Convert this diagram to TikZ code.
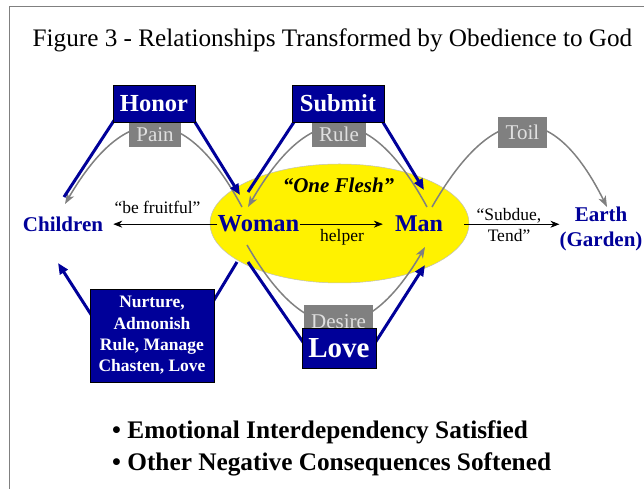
\documentclass[tikz,border=0pt]{standalone}
\usepackage{fontspec}
\setmainfont{Liberation Serif}
\usetikzlibrary{arrows.meta,shapes.geometric}
\definecolor{navy}{RGB}{0,0,153}
\definecolor{boxgray}{RGB}{128,128,128}
\definecolor{pale}{RGB}{224,224,224}
\newcommand{\fsz}[1]{\fontsize{#1}{1.2\dimexpr#1pt\relax}\selectfont}
\tikzset{
  blueline/.style={draw=navy, line width=3pt},
  bluearrow/.style={blueline, -{Triangle[length=11pt,width=9pt]}},
  grayarc/.style={draw=boxgray, line width=1.5pt, -{Stealth[length=11pt,width=8pt,inset=3pt]}},
  plainarrow/.style={draw=black, line width=0.8pt, -{Stealth[length=9pt,width=7pt]}},
  bluebox/.style={fill=navy, draw=black, line width=0.8pt, text=white, inner sep=0pt},
  graybox/.style={fill=boxgray, text=pale, inner sep=0pt, font=\fsz{21}},
  person/.style={text=navy, inner sep=0pt, anchor=base},
  remark/.style={inner sep=0pt, anchor=base, font=\fsz{17.5}},
}
\begin{document}
\begin{tikzpicture}[x=1pt, y=1pt]
  \useasboundingbox (0,0) rectangle (644,489);
  % frame
  \draw[boxgray, line width=1pt] (9,0) -- (9,482) -- (644,482);
  \node[anchor=base, inner sep=0pt, font=\fsz{25.2}] (title) at (332.5,442)
    {Figure 3 - Relationships Transformed by Obedience to God};

  % one flesh
  \node[ellipse, fill=yellow, draw=gray!50, line width=0.5pt, inner sep=0pt,
        minimum width=259pt, minimum height=119pt] (flesh) at (339.5,265.5) {};
  \node[anchor=base, inner sep=0pt, font=\fsz{21}\bfseries\itshape] (oneflesh) at (338.5,296) {“One Flesh”};

  % persons
  \node[person, font=\fsz{24.5}\bfseries] (woman) at (258.5,257) {Woman};
  \node[person, font=\fsz{24}\bfseries] (man) at (419,257) {Man};
  \node[person, font=\fsz{21}\bfseries] (children) at (63,257) {Children};
  \node[text=navy, inner sep=0pt, align=center, font=\fontsize{21}{25}\selectfont\bfseries] (earth) at (601,260) {Earth\\(Garden)};

  \node[remark] (helper) at (342,247) {helper};
  \node[remark] (fruitful) at (157.5,275) {“be fruitful”};
  \node[inner sep=0pt, align=center, font=\fontsize{17.5}{21.7}\selectfont] (subdue) at (509,264) {“Subdue,\\Tend”};

  \draw[plainarrow, shorten >=10pt] (woman.west) -- (woman.west -| children.east);
  \draw[plainarrow, shorten >=12pt] (woman.east) -- (woman.east -| man.west);
  \draw[plainarrow, shorten <=21pt] (man.east) -- (man.east -| earth.west);

  % ends of the arcs
  \coordinate (painW) at (242,282);  \coordinate (painC) at (65,285);
  \coordinate (ruleM) at (427,282);  \coordinate (ruleW) at (248,282);
  \coordinate (toilM) at (432,282);  \coordinate (toilE) at (607,282);
  \coordinate (desW) at (247,244);   \coordinate (desM) at (425,242);

  \draw[grayarc] (painW) .. controls (185,388) and (126,389) .. (painC);
  \draw[grayarc] (ruleM) .. controls (369,389) and (310,389) .. (ruleW);
  \draw[grayarc] (toilM) .. controls (494,390) and (553,390) .. (toilE);
  \draw[grayarc] (desW) .. controls (306,141) and (366,141) .. (desM);

  % ends of the blue lines
  \coordinate (honC) at (64,292);   \coordinate (honL) at (115,370);
  \coordinate (honR) at (193,370);  \coordinate (honW) at (240,294);
  \coordinate (subW) at (248,297);  \coordinate (subL) at (296,370);
  \coordinate (subR) at (381,370);  \coordinate (subM) at (424,299);
  \coordinate (lovW) at (248,227);  \coordinate (lovL) at (305,144);
  \coordinate (lovR) at (375,146);  \coordinate (lovM) at (425,224);
  \coordinate (nurW) at (237,227);  \coordinate (nurR) at (211,184);
  \coordinate (nurL) at (92,173);   \coordinate (nurC) at (58,226);

  \draw[blueline] (honC) -- (honL);
  \draw[bluearrow] (honR) -- (honW);
  \draw[blueline] (subW) -- (subL);
  \draw[bluearrow] (subR) -- (subM);
  \draw[blueline] (lovW) -- (lovL);
  \draw[bluearrow] (lovR) -- (lovM);
  \draw[blueline] (nurW) -- (nurR);
  \draw[bluearrow] (nurL) -- (nurC);

  % boxes
  \node[graybox, minimum width=52pt, minimum height=25pt] (pain) at (155,354.5) {Pain};
  \node[graybox, minimum width=54pt, minimum height=25pt] (rule) at (339,354.5) {Rule};
  \node[graybox, minimum width=49pt, minimum height=31pt] (toil) at (522.5,356.5) {Toil};
  \node[graybox, minimum width=69pt, minimum height=33pt] (desire) at (338.5,167.5) {Desire};
  \node[bluebox, minimum width=82pt, minimum height=37pt, font=\fsz{24.5}\bfseries] (honor) at (154,385.5) {Honor};
  \node[bluebox, minimum width=92pt, minimum height=37pt, font=\fsz{24.5}\bfseries] (submit) at (338,385.5) {Submit};
  \node[bluebox, minimum width=74pt, minimum height=40pt, font=\fsz{29}\bfseries] (love) at (339,141) {Love};
  \node[bluebox, minimum width=124pt, minimum height=93pt, align=center,
        font=\fontsize{17.5}{21.3}\selectfont\bfseries] (nurture) at (152,153.5)
    {Nurture,\\Admonish\\Rule, Manage\\Chasten, Love};

  % summary
  \node[anchor=west, inner sep=0pt, align=left, font=\fontsize{25.3}{32}\selectfont\bfseries] (summary) at (112,40.6)
    {• Emotional Interdependency Satisfied\\• Other Negative Consequences Softened};
\end{tikzpicture}
\end{document}
